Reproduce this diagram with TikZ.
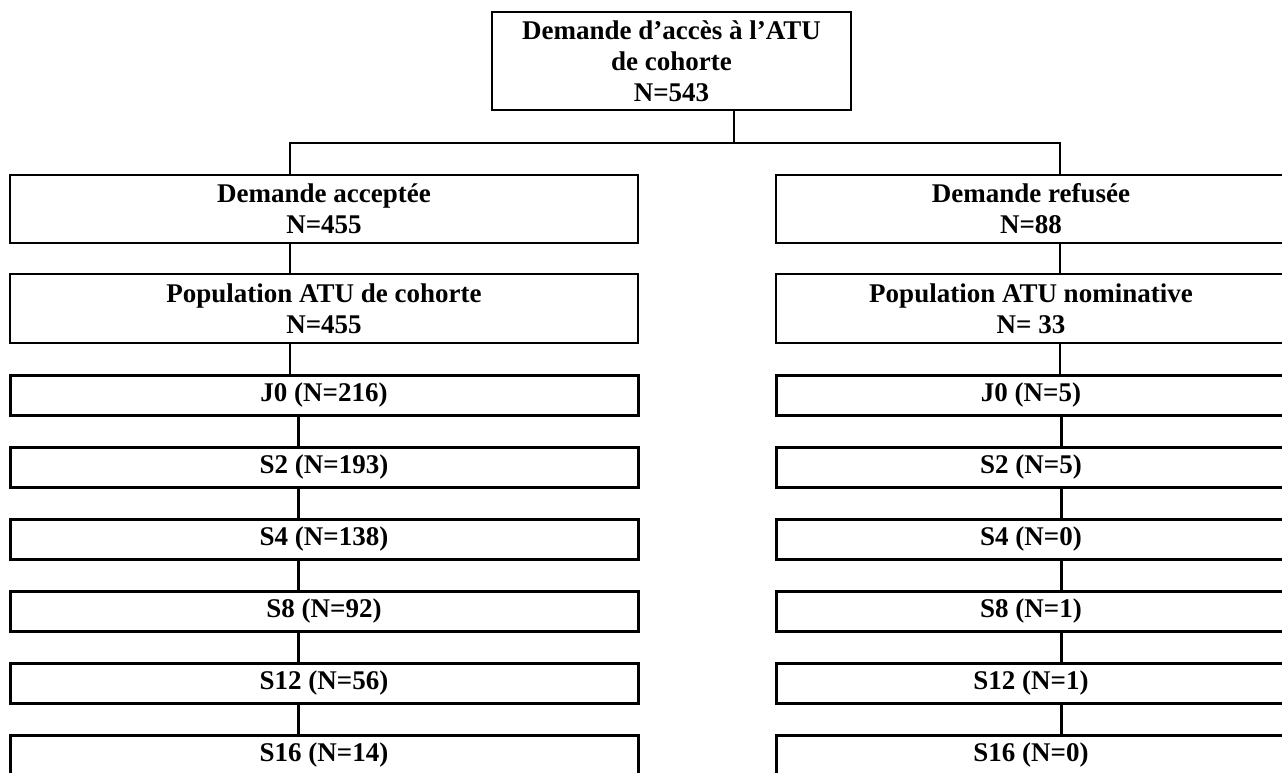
\documentclass[tikz,border=0pt]{standalone}
\usepackage{fontspec}
\setmainfont{Liberation Serif}
\begin{document}
\begin{tikzpicture}[x=1pt,y=-1pt,
  box/.style={draw, line width=1.8pt, inner sep=0pt, align=center,
    font=\bfseries\fontsize{27}{31}\selectfont},
  tbox/.style={box, line width=3pt, minimum height=40},
  thinline/.style={line width=1.8pt},
  thickline/.style={line width=3pt}]
\useasboundingbox (0,0) rectangle (1282,773);
\clip (0,0) rectangle (1282,773);

\coordinate (tx) at (734,0);
\coordinate (lx) at (290,0);
\coordinate (lxt) at (298,0);
\coordinate (rx) at (1060,0);
\coordinate (rxt) at (1061,0);
\coordinate (hy) at (0,143);

\node[box, minimum width=359, minimum height=98] (top) at (671.5,61)
  {Demande d’accès à l’ATU\\de cohorte\\N=543};

\node[box, minimum width=628, minimum height=68] (acc) at (324,209) {Demande acceptée\\N=455};
\node[box, minimum width=510, minimum height=68] (ref) at (1031,209) {Demande refusée\\N=88};
\node[box, minimum width=628, minimum height=69] (popL) at (324,308.5) {Population ATU de cohorte\\N=455};
\node[box, minimum width=510, minimum height=69] (popR) at (1031,308.5) {Population ATU nominative\\N= 33};

\node[tbox, minimum width=628] (L0) at (324,395) {J0 (N=216)};
\node[tbox, minimum width=628] (L1) at (324,467) {S2 (N=193)};
\node[tbox, minimum width=628] (L2) at (324,539) {S4 (N=138)};
\node[tbox, minimum width=628] (L3) at (324,611) {S8 (N=92)};
\node[tbox, minimum width=628] (L4) at (324,683) {S12 (N=56)};
\node[tbox, minimum width=628] (L5) at (324,755) {S16 (N=14)};

\node[tbox, minimum width=510] (R0) at (1031,395) {J0 (N=5)};
\node[tbox, minimum width=510] (R1) at (1031,467) {S2 (N=5)};
\node[tbox, minimum width=510] (R2) at (1031,539) {S4 (N=0)};
\node[tbox, minimum width=510] (R3) at (1031,611) {S8 (N=1)};
\node[tbox, minimum width=510] (R4) at (1031,683) {S12 (N=1)};
\node[tbox, minimum width=510] (R5) at (1031,755) {S16 (N=0)};

\draw[thinline] (top.south -| tx) -- (tx |- hy);
\draw[thinline] (acc.north -| lx) -- (lx |- hy) -- (rx |- hy) -- (ref.north -| rx);

\draw[thinline] (acc.south -| lx) -- (popL.north -| lx);
\draw[thinline] (popL.south -| lx) -- (L0.north -| lx);
\draw[thinline] (ref.south -| rx) -- (popR.north -| rx);
\draw[thinline] (popR.south -| rx) -- (R0.north -| rx);

\foreach \a/\b in {L0/L1,L1/L2,L2/L3,L3/L4,L4/L5}
  \draw[thickline] (\a.south -| lxt) -- (\b.north -| lxt);
\foreach \a/\b in {R0/R1,R1/R2,R2/R3,R3/R4,R4/R5}
  \draw[thickline] (\a.south -| rxt) -- (\b.north -| rxt);
\end{tikzpicture}
\end{document}
